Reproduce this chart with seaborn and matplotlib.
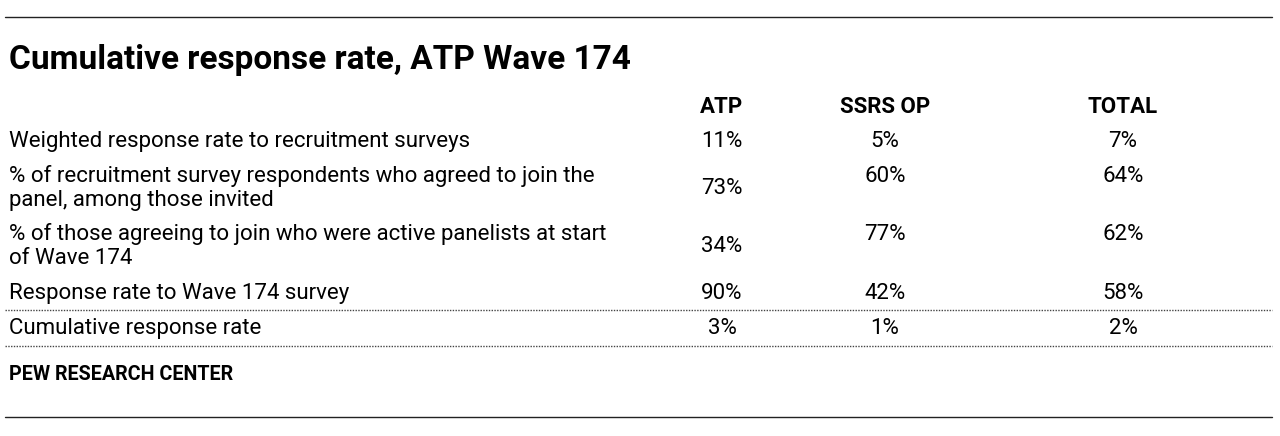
import pandas as pd
import seaborn as sns
import matplotlib.pyplot as plt

# table contents
title = 'Cumulative response rate, ATP Wave 174'
columns = ['ATP', 'SSRS OP', 'TOTAL']
row_labels = [
    'Weighted response rate to recruitment surveys',
    '% of recruitment survey respondents who agreed to join the\npanel, among those invited',
    '% of those agreeing to join who were active panelists at start\nof Wave 174',
    'Response rate to Wave 174 survey',
    'Cumulative response rate',
]
atp = [11, 73, 34, 90, 3]
ssrs_op = [5, 60, 77, 42, 1]
total = [7, 64, 62, 58, 2]
source = 'PEW RESEARCH CENTER'

df = pd.DataFrame({'label': row_labels, 'ATP': atp, 'SSRS OP': ssrs_op, 'TOTAL': total})

sns.set_theme(style='white')
plt.rcParams['font.family'] = ['Roboto', 'DejaVu Sans']
plt.rcParams['text.color'] = 'black'

fig = plt.figure(figsize=(12.8, 4.36), dpi=100)
ax = fig.add_axes([0, 0, 1, 1])
ax.set_xlim(0, 1280)
ax.set_ylim(436, 0)
ax.axis('off')

col_x = {'ATP': 722, 'SSRS OP': 885, 'TOTAL': 1123}
row_y = [141, 188, 246, 293, 328]
label_x = 9

ax.plot([5, 1272], [17, 17], color='#222222', lw=1)
ax.plot([5, 1272], [417, 417], color='#222222', lw=1)

ax.text(label_x, 60, title, fontsize=24, fontweight='bold', va='center', ha='left')

for c in columns:
    ax.text(col_x[c], 107, c, fontsize=16, fontweight='bold', ha='center', va='center')

for i, r in df.iterrows():
    y = row_y[i]
    ax.text(label_x, y, r['label'], fontsize=16, ha='left', va='center', linespacing=1.15)
    for c in columns:
        cy = y
        # two-line rows: ATP centered, others aligned to first line
        if '\n' in r['label'] and c != 'ATP':
            cy = y - 12
        ax.text(col_x[c], cy, f"{r[c]}%", fontsize=16, ha='center', va='center')

for y in [310, 346]:
    ax.plot([5, 1272], [y, y], color='#444444', lw=1, linestyle=(0, (1, 1)))

ax.text(label_x, 374, source, fontsize=14.2, fontweight='bold', ha='left', va='center')

fig.savefig('out.png', dpi=100)
